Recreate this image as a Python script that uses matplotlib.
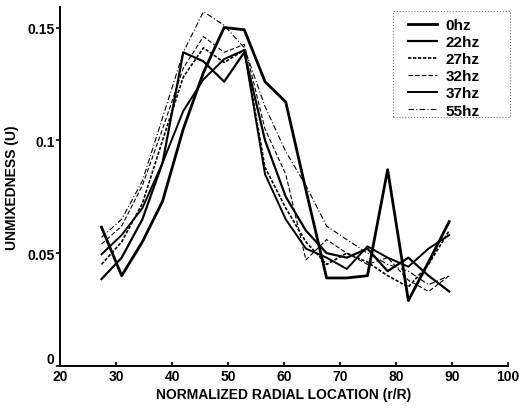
import matplotlib
matplotlib.use("Agg")
import matplotlib.pyplot as plt
from matplotlib.patches import Rectangle

plt.rcParams['font.family'] = ['Liberation Sans', 'DejaVu Sans']

x = [27.4, 31.0, 34.7, 38.3, 42.0, 45.6, 49.3, 52.9, 56.6, 60.3, 63.9, 67.6, 71.2, 74.9, 78.5, 82.2, 85.8, 89.5]

u_0hz  = [0.0615, 0.040, 0.055, 0.073, 0.105, 0.130, 0.150, 0.149, 0.126, 0.117, 0.078, 0.039, 0.039, 0.040, 0.087, 0.029, 0.046, 0.064]
u_22hz = [0.0385, 0.048, 0.065, 0.090, 0.139, 0.135, 0.126, 0.139, 0.100, 0.075, 0.060, 0.050, 0.048, 0.052, 0.042, 0.048, 0.040, 0.033]
u_27hz = [0.045, 0.055, 0.072, 0.100, 0.128, 0.141, 0.1345, 0.140, 0.088, 0.070, 0.055, 0.045, 0.050, 0.046, 0.040, 0.035, 0.045, 0.060]
u_32hz = [0.054, 0.062, 0.080, 0.105, 0.132, 0.146, 0.139, 0.1425, 0.105, 0.085, 0.047, 0.056, 0.050, 0.045, 0.048, 0.038, 0.033, 0.040]
u_37hz = [0.0495, 0.058, 0.070, 0.090, 0.113, 0.127, 0.136, 0.140, 0.085, 0.065, 0.052, 0.048, 0.043, 0.053, 0.048, 0.044, 0.052, 0.058]
u_55hz = [0.057, 0.065, 0.082, 0.110, 0.139, 0.157, 0.151, 0.141, 0.115, 0.095, 0.080, 0.062, 0.056, 0.050, 0.045, 0.042, 0.036, 0.040]

labels = ['0hz', '22hz', '27hz', '32hz', '37hz', '55hz']
series = [u_0hz, u_22hz, u_27hz, u_32hz, u_37hz, u_55hz]
styles = [
    dict(lw=2.0, ls='-'),
    dict(lw=1.6, ls='-'),
    dict(lw=1.2, ls=(0, (2, 1))),
    dict(lw=0.8, ls=(0, (4, 2))),
    dict(lw=1.4, ls='-'),
    dict(lw=0.8, ls=(0, (5, 2, 1, 2))),
]

xticks = [20, 30, 40, 50, 60, 70, 80, 90, 100]
yticks = [0, 0.05, 0.1, 0.15]
ytick_labels = ['0', '0.05', '0.1', '0.15']

fig = plt.figure(figsize=(5.27, 4.10), dpi=100)
ax = fig.add_axes([0.114, 0.105, 0.850, 0.875])

for lab, y, st in zip(labels, series, styles):
    ax.plot(x, y, color='black', label=lab, **st)

ax.set_xlim(20, 100)
ax.set_ylim(0, 0.159)
ax.set_xticks(xticks)
ax.set_xticklabels([str(t) for t in xticks], fontsize=10, fontweight='bold')
ax.set_yticks(yticks)
ax.set_yticklabels(ytick_labels, fontsize=10, fontweight='bold')
ax.get_yticklabels()[0].set_verticalalignment('bottom')
ax.tick_params(axis='x', direction='in', length=3, width=1.2, pad=2)
ax.tick_params(axis='y', direction='out', length=3, width=1.2, pad=1)
for s in ['top', 'right']:
    ax.spines[s].set_visible(False)
for s in ['left', 'bottom']:
    ax.spines[s].set_linewidth(1.4)

ax.set_xlabel('NORMALIZED RADIAL LOCATION (r/R)', fontsize=10, fontweight='bold', labelpad=3)
ax.set_ylabel('UNMIXEDNESS (U)', fontsize=10, fontweight='bold', labelpad=6)

# dotted legend box
ax.add_patch(Rectangle((0.743, 0.694), 0.261, 0.295, transform=ax.transAxes,
                       fill=False, edgecolor='#777777', linestyle=':', linewidth=0.8,
                       clip_on=False, zorder=3))
leg = ax.legend(loc='upper left', bbox_to_anchor=(0.752, 0.999), fontsize=11,
                frameon=False, handlelength=1.9, labelspacing=0.2,
                borderpad=0.2, handletextpad=0.6)
for t in leg.get_texts():
    t.set_fontweight('bold')

fig.savefig('out.png', dpi=100)
